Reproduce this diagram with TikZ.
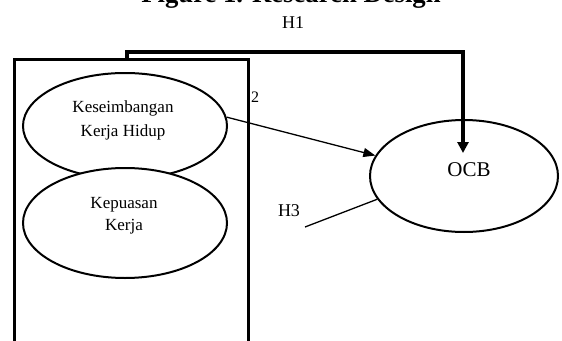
\documentclass[tikz,border=0pt]{standalone}
\usepackage{fontspec}
\setmainfont{Liberation Serif}
\usetikzlibrary{shapes.geometric,arrows.meta}
\begin{document}
\begin{tikzpicture}[x=1pt,y=-1pt,
  ell/.style={draw, ellipse, line width=2pt, inner sep=0pt, fill=white},
  txt/.style={align=center, inner sep=0pt, font=\fontsize{17}{24}\selectfont},
  lbl/.style={inner sep=0pt, font=\fontsize{18}{20}\selectfont},
  thinarrow/.style={line width=1.3pt, -{Triangle[length=12pt,width=9pt]}},
  thickarrow/.style={line width=3.2pt, -{Triangle[length=11pt,width=11pt]}},
  boxline/.style={draw, line width=3pt, inner sep=0pt}]
\useasboundingbox (0,0) rectangle (562,340);
% title (clipped at top, as in the reference)
\node[anchor=base, inner sep=0pt, font=\fontsize{26.7}{30}\selectfont\bfseries] (title) at (291,2) {Figure 1. Research Design};
\node[lbl] (h1) at (293,23) {H1};
% ellipses
\node[ell, minimum width=204pt, minimum height=106pt] (kkh) at (125,126) {};
\node[txt] (kkht) at (123,120) {Keseimbangan\\Kerja Hidup};
\node[ell, minimum width=204pt, minimum height=110pt] (kk) at (125,223) {};
\node[txt, font=\fontsize{17}{22}\selectfont] (kkt) at (124,216) {Kepuasan\\Kerja};
% box
\node[boxline, minimum width=234pt, minimum height=292pt] (box) at (131,205) {};
% OCB
\node[ell, minimum width=188pt, minimum height=112pt] (ocb) at (464,176) {};
\node[inner sep=0pt, font=\fontsize{21}{24}\selectfont] (ocbt) at (469,170) {OCB};
% H1 path
\coordinate (h1s) at (127,59);
\coordinate (h1e) at (463,153);
\draw[thickarrow] (h1s) -- ++(0,-7) -| (h1e);
% H2 arrow
\draw[thinarrow] (kkh.5) -- (ocb.167);
\node[inner sep=0pt, font=\fontsize{16}{18}\selectfont] (h2) at (255,97) {2};
% H3
\node[lbl] (h3) at (289,211) {H3};
\coordinate (h3s) at (305,227);
\draw[line width=1.3pt] (h3s) -- (ocb.195);
\end{tikzpicture}
\end{document}
